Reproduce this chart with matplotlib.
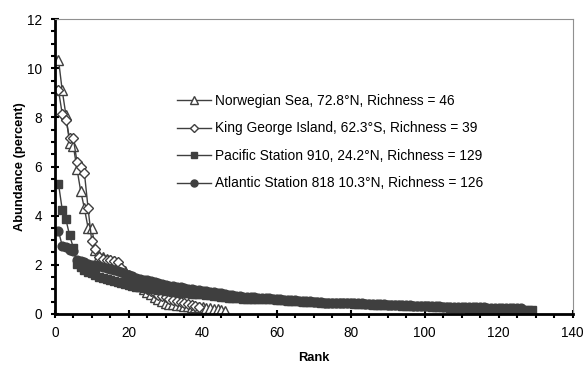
import matplotlib.pyplot as plt
from matplotlib.ticker import MultipleLocator

plt.rcParams['font.family'] = ['Liberation Sans', 'DejaVu Sans']

# abundance (percent) by rank
norwegian = [10.35, 9.1, 8.1, 6.95, 6.85, 5.9, 5.0, 4.3, 3.5, 3.5,
             2.6, 2.35, 2.3, 2.25, 2.2, 2.15, 2.05, 1.9, 1.75, 1.6,
             1.45, 1.3, 1.15, 1.0, 0.9, 0.8, 0.7, 0.6, 0.52, 0.46,
             0.42, 0.4, 0.38, 0.36, 0.34, 0.32, 0.3, 0.29, 0.28, 0.27,
             0.25, 0.23, 0.21, 0.19, 0.17, 0.13]
king_george = [9.1, 8.15, 7.9, 7.15, 7.15, 6.2, 6.0, 5.75, 4.3, 2.95,
               2.65, 2.3, 2.25, 2.2, 2.2, 2.15, 2.1, 1.85, 1.65, 1.5,
               1.4, 1.3, 1.2, 1.1, 1.0, 0.92, 0.85, 0.78, 0.72, 0.67,
               0.62, 0.58, 0.54, 0.5, 0.46, 0.42, 0.38, 0.34, 0.30]
pacific = [5.3, 4.25, 3.85, 3.2, 2.7, 2.05, 1.9, 1.8, 1.72, 1.65,
           1.58, 1.52, 1.47, 1.42, 1.38, 1.33, 1.28, 1.24, 1.2, 1.17,
           1.14, 1.11, 1.09, 1.07, 1.05, 1.03, 1.01, 0.99, 0.97, 0.95,
           0.93, 0.91, 0.89, 0.87, 0.85, 0.84, 0.83, 0.82, 0.81, 0.8,
           0.78, 0.76, 0.74, 0.72, 0.7, 0.68, 0.66, 0.65, 0.64, 0.63,
           0.62, 0.62, 0.61, 0.61, 0.6, 0.6, 0.6, 0.59, 0.59, 0.58,
           0.56, 0.55, 0.54, 0.53, 0.52, 0.51, 0.5, 0.5, 0.49, 0.48,
           0.47, 0.46, 0.46, 0.45, 0.45, 0.45, 0.44, 0.44, 0.44, 0.43,
           0.42, 0.41, 0.4, 0.39, 0.39, 0.38, 0.38, 0.37, 0.37, 0.36,
           0.36, 0.35, 0.35, 0.34, 0.34, 0.33, 0.33, 0.32, 0.32, 0.31,
           0.31, 0.3, 0.3, 0.29, 0.28, 0.27, 0.26, 0.25, 0.24, 0.23,
           0.22, 0.21, 0.21, 0.2, 0.2, 0.19, 0.19, 0.18, 0.18, 0.18,
           0.17, 0.17, 0.17, 0.16, 0.16, 0.16, 0.15, 0.15, 0.15]
atlantic = [3.38, 2.77, 2.72, 2.62, 2.55, 2.2, 2.15, 2.1, 2.05, 2.0,
            1.97, 1.94, 1.91, 1.88, 1.84, 1.8, 1.75, 1.7, 1.64, 1.58,
            1.53, 1.48, 1.44, 1.4, 1.36, 1.32, 1.28, 1.24, 1.2, 1.17,
            1.15, 1.13, 1.1, 1.08, 1.05, 1.02, 1.0, 0.98, 0.96, 0.94,
            0.92, 0.9, 0.88, 0.86, 0.84, 0.81, 0.78, 0.75, 0.73, 0.71,
            0.7, 0.69, 0.68, 0.67, 0.66, 0.65, 0.64, 0.63, 0.62, 0.61,
            0.6, 0.58, 0.56, 0.55, 0.55, 0.54, 0.54, 0.53, 0.52, 0.5,
            0.48, 0.47, 0.46, 0.46, 0.46, 0.45, 0.45, 0.45, 0.45, 0.44,
            0.44, 0.43, 0.43, 0.42, 0.42, 0.41, 0.41, 0.4, 0.39, 0.38,
            0.38, 0.37, 0.37, 0.36, 0.36, 0.35, 0.34, 0.34, 0.33, 0.33,
            0.32, 0.32, 0.31, 0.31, 0.3, 0.3, 0.3, 0.29, 0.29, 0.29,
            0.28, 0.28, 0.28, 0.27, 0.27, 0.27, 0.26, 0.26, 0.26, 0.25,
            0.25, 0.25, 0.24, 0.24, 0.23, 0.22]

labels = ['Norwegian Sea, 72.8\u00b0N, Richness = 46',
          'King George Island, 62.3\u00b0S, Richness = 39',
          'Pacific Station 910, 24.2\u00b0N, Richness = 129',
          'Atlantic Station 818 10.3\u00b0N, Richness = 126']

dark = '#3f3f3f'

fig = plt.figure(figsize=(5.83, 3.68), dpi=100)
ax = fig.add_axes([0.094, 0.147, 0.888, 0.801])

series = [norwegian, king_george, pacific, atlantic]
styles = [('^', 'white', 7.5), ('D', 'white', 5.6), ('s', dark, 6.0), ('o', dark, 6.3)]
for vals, lab, (m, fc, ms) in zip(series, labels, styles):
    ranks = range(1, len(vals) + 1)
    ax.plot(ranks, vals, color=dark, linewidth=1.0, marker=m, markersize=ms,
            markerfacecolor=fc, markeredgecolor=dark, markeredgewidth=1.0,
            label=lab)

ax.set_xlim(0, 140)
ax.set_ylim(0, 12)
ax.xaxis.set_major_locator(MultipleLocator(20))
ax.xaxis.set_minor_locator(MultipleLocator(5))
ax.yaxis.set_major_locator(MultipleLocator(2))
ax.yaxis.set_minor_locator(MultipleLocator(0.5))
ax.tick_params(which='major', direction='inout', length=6, width=1.5,
               labelsize=9.8, color='black')
ax.tick_params(which='minor', direction='out', length=3, width=1.5, color='black')
ax.tick_params(axis='x', which='major', pad=6)
ax.tick_params(axis='y', which='major', pad=6)

for s in ['left', 'bottom']:
    ax.spines[s].set_linewidth(2)
    ax.spines[s].set_color('black')
for s in ['top', 'right']:
    ax.spines[s].set_linewidth(0.8)
    ax.spines[s].set_color('#909090')

ax.set_xlabel('Rank', fontsize=9.3, fontweight='bold', labelpad=8)
ax.set_ylabel('Abundance (percent)', fontsize=9.3, fontweight='bold', labelpad=1)

ax.legend(loc='upper left', bbox_to_anchor=(0.225, 0.765), frameon=False,
          fontsize=9.9, handlelength=2.5, handletextpad=0.25, labelspacing=0.98,
          borderaxespad=0, markerscale=0.8)

fig.savefig('out.png', dpi=100)
